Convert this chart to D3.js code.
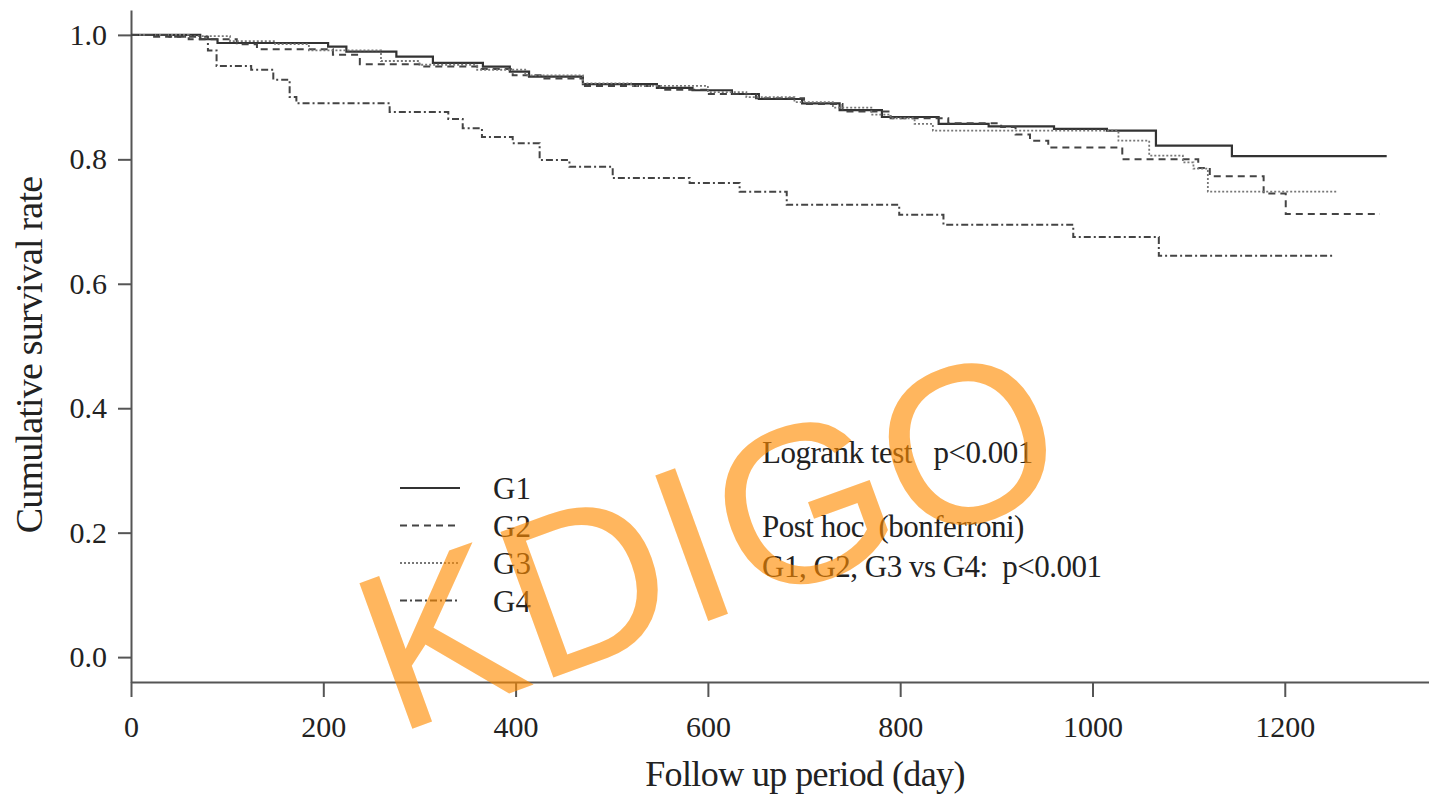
<!DOCTYPE html>
<meta charset="utf-8">
<html>
<head>
<style>
  body { margin: 0; background: #fff; }
  text { font-family: "Liberation Serif", "Times New Roman", serif; }
</style>
</head>
<body>
<script src="https://d3js.org/d3.v7.min.js"></script>
<div id="chart"></div>
<script>

// Kaplan-Meier steps (day, survival)
var g1Days = [0, 72, 90, 205, 224, 276, 314, 366, 394, 414, 470, 547, 584, 625, 653, 698, 737, 781, 840, 892, 960, 1015, 1066, 1145, 1306];
var g1Surv = [1.0, 0.993, 0.987, 0.981, 0.973, 0.965, 0.955, 0.949, 0.941, 0.933, 0.921, 0.915, 0.911, 0.905, 0.897, 0.890, 0.879, 0.868, 0.857, 0.853, 0.849, 0.846, 0.822, 0.805, 0.805];

var g2Days = [0, 20, 60, 110, 131, 210, 238, 300, 360, 397, 430, 470, 550, 600, 650, 700, 740, 790, 850, 905, 920, 935, 954, 1031, 1110, 1122, 1178, 1201, 1299];
var g2Surv = [1.0, 0.997, 0.993, 0.985, 0.977, 0.968, 0.953, 0.949, 0.945, 0.935, 0.930, 0.918, 0.912, 0.905, 0.898, 0.889, 0.877, 0.866, 0.858, 0.852, 0.840, 0.830, 0.819, 0.800, 0.786, 0.773, 0.745, 0.712, 0.712];

var g3Days = [0, 60, 103, 150, 185, 260, 300, 360, 410, 470, 520, 600, 640, 690, 730, 770, 790, 815, 834, 1027, 1059, 1094, 1105, 1120, 1255];
var g3Surv = [1.0, 0.998, 0.990, 0.985, 0.975, 0.958, 0.952, 0.944, 0.935, 0.922, 0.918, 0.908, 0.900, 0.892, 0.883, 0.872, 0.866, 0.857, 0.846, 0.830, 0.806, 0.795, 0.785, 0.748, 0.748];

var g4Days = [0, 40, 80, 89, 125, 148, 165, 172, 269, 330, 345, 365, 397, 425, 456, 501, 581, 633, 682, 799, 845, 980, 1069, 1250];
var g4Surv = [1.0, 0.997, 0.975, 0.950, 0.944, 0.928, 0.900, 0.890, 0.876, 0.865, 0.850, 0.836, 0.826, 0.799, 0.788, 0.770, 0.762, 0.748, 0.727, 0.711, 0.695, 0.675, 0.645, 0.645];

var groupNames = ["G1", "G2", "G3", "G4"];
var xTicks = [0, 200, 400, 600, 800, 1000, 1200];
var yTicks = [0.0, 0.2, 0.4, 0.6, 0.8, 1.0];
var noteLines = ["Logrank test   p<0.001", "Post hoc  (bonferroni)", "G1, G2, G3 vs G4:  p<0.001"];

var width = 1429, height = 795;

var svg = d3.select("#chart")
  .append("svg")
    .attr("width", width)
    .attr("height", height);

var x = d3.scaleLinear().domain([0, 1350]).range([131, 1429]);
var y = d3.scaleLinear().domain([-0.04, 1.04]).range([682, 10]);

// axes
var yAxis = svg.append("g")
    .attr("transform", "translate(131,0)")
    .call(d3.axisLeft(y).tickValues(yTicks).tickFormat(d3.format(".1f"))
      .tickSize(13).tickSizeOuter(0).tickPadding(11));
var xAxis = svg.append("g")
    .attr("transform", "translate(0,682)")
    .call(d3.axisBottom(x).tickValues(xTicks).tickFormat(d3.format("d"))
      .tickSize(15).tickSizeOuter(0).tickPadding(19));

[yAxis, xAxis].forEach(function(a) {
  a.selectAll("path, line").attr("stroke", "#555").attr("stroke-width", 2);
  a.selectAll("text").style("font-family", "Liberation Serif").style("font-size", "30px").style("fill", "#222");
});

// axis titles
svg.append("text")
    .attr("transform", "translate(42,355) rotate(-90)")
    .style("text-anchor", "middle")
    .style("font-size", "38px")
    .style("letter-spacing", "-0.8px")
    .style("fill", "#222")
    .text("Cumulative survival rate");

svg.append("text")
    .attr("x", 805)
    .attr("y", 786)
    .style("text-anchor", "middle")
    .style("font-size", "36px")
    .style("letter-spacing", "-0.6px")
    .style("fill", "#222")
    .text("Follow up period (day)");

// curves
var series = [
  {name: groupNames[0], days: g1Days, surv: g1Surv, dash: null, color: "#333", w: 2.2},
  {name: groupNames[1], days: g2Days, surv: g2Surv, dash: "7,5", color: "#444", w: 2},
  {name: groupNames[2], days: g3Days, surv: g3Surv, dash: "2,2", color: "#777", w: 1.8},
  {name: groupNames[3], days: g4Days, surv: g4Surv, dash: "7,3,2,3", color: "#444", w: 2}
];

var line = d3.line()
    .x(function(d) { return x(d[0]); })
    .y(function(d) { return y(d[1]); })
    .curve(d3.curveStepAfter);

series.forEach(function(s) {
  var pts = s.days.map(function(d, i) { return [d, s.surv[i]]; });
  svg.append("path")
      .datum(pts)
      .attr("d", line)
      .attr("fill", "none")
      .attr("stroke", s.color)
      .attr("stroke-width", s.w)
      .attr("stroke-dasharray", s.dash);
});

// legend
var legend = svg.append("g").attr("transform", "translate(400,488)");
series.forEach(function(s, i) {
  var g = legend.append("g").attr("transform", "translate(0," + (i * 37.5) + ")");
  g.append("line")
      .attr("x1", 0).attr("x2", 60)
      .attr("stroke", s.color)
      .attr("stroke-width", s.w)
      .attr("stroke-dasharray", s.dash);
  g.append("text")
      .attr("x", 93)
      .attr("y", 11)
      .style("font-size", "31px")
      .style("fill", "#222")
      .text(s.name);
});

// test results
var noteY = [463, 537, 577];
noteLines.forEach(function(t, i) {
  svg.append("text")
      .attr("x", 762)
      .attr("y", noteY[i])
      .style("font-size", "31px")
      .style("white-space", "pre")
      .style("letter-spacing", "-0.5px")
      .style("fill", "#222")
      .text(t);
});

// watermark
svg.append("text")
    .attr("transform", "translate(395,735) rotate(-20)")
    .style("font-family", "Liberation Sans, Arial, sans-serif")
    .style("font-size", "225px")
    .style("fill", "#FF8C00")
    .style("fill-opacity", 0.63)
    .text("KDIGO");

</script>
</body>
</html>
